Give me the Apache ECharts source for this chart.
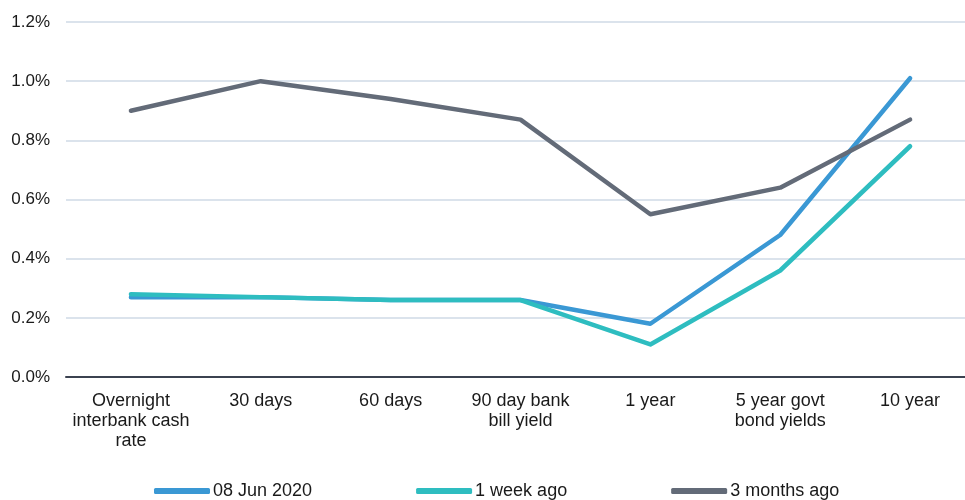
<!DOCTYPE html>
<html><head><meta charset="utf-8">
<script src="https://cdn.jsdelivr.net/npm/echarts@6/dist/echarts.min.js"></script>
<style>html,body{margin:0;padding:0;background:#fff;overflow:hidden;width:965px;height:500px}#c{width:980px;height:500px}</style>
</head><body><div id="c"></div>
<script>
const categories = ["Overnight\ninterbank cash\nrate", "30 days", "60 days", "90 day bank\nbill yield", "1 year", "5 year govt\nbond yields", "10 year"];
const seriesNames = ["08 Jun 2020", "1 week ago", "3 months ago"];
const current = [0.27, 0.27, 0.26, 0.26, 0.18, 0.48, 1.01];
const weekAgo = [0.28, 0.27, 0.26, 0.26, 0.11, 0.36, 0.78];
const monthsAgo = [0.90, 1.00, 0.94, 0.87, 0.55, 0.64, 0.87];
const colors = ["#3a98d4", "#2ebdc0", "#636b78"];

const chart = echarts.init(document.getElementById('c'));
const font = "'Liberation Sans', Arial, sans-serif";
chart.setOption({
  animation: false,
  color: colors,
  textStyle: { fontFamily: font },
  grid: { left: 66, top: 22, right: 5, bottom: 123, containLabel: false },
  legend: {
    top: 477, left: 149,
    itemWidth: 56, itemHeight: 6, itemGap: 104,
    icon: 'roundRect',
    textStyle: { fontSize: 18, color: '#1a1a1a', fontFamily: font, padding: [0, 0, 0, -2] },
    data: seriesNames
  },
  xAxis: {
    type: 'category', data: categories, boundaryGap: true,
    axisLine: { lineStyle: { color: '#3b4250', width: 2 } },
    axisTick: { show: false },
    axisLabel: { color: '#1a1a1a', fontSize: 18, lineHeight: 20, margin: 14, interval: 0, fontFamily: font }
  },
  yAxis: {
    type: 'value', min: 0, max: 1.2, interval: 0.2,
    axisLine: { show: false }, axisTick: { show: false },
    splitLine: { lineStyle: { color: '#dbe3ec', width: 2 } },
    axisLabel: { color: '#1a1a1a', fontSize: 17, margin: 16, fontFamily: font,
      formatter: v => v.toFixed(1) + '%' }
  },
  series: [
    { name: seriesNames[0], type: 'line', data: current, showSymbol: false, lineStyle: { width: 4.5, cap: 'round', join: 'round' } },
    { name: seriesNames[1], type: 'line', data: weekAgo, showSymbol: false, lineStyle: { width: 4.5, cap: 'round', join: 'round' } },
    { name: seriesNames[2], type: 'line', data: monthsAgo, showSymbol: false, lineStyle: { width: 4.5, cap: 'round', join: 'round' } }
  ]
});
</script></body></html>
